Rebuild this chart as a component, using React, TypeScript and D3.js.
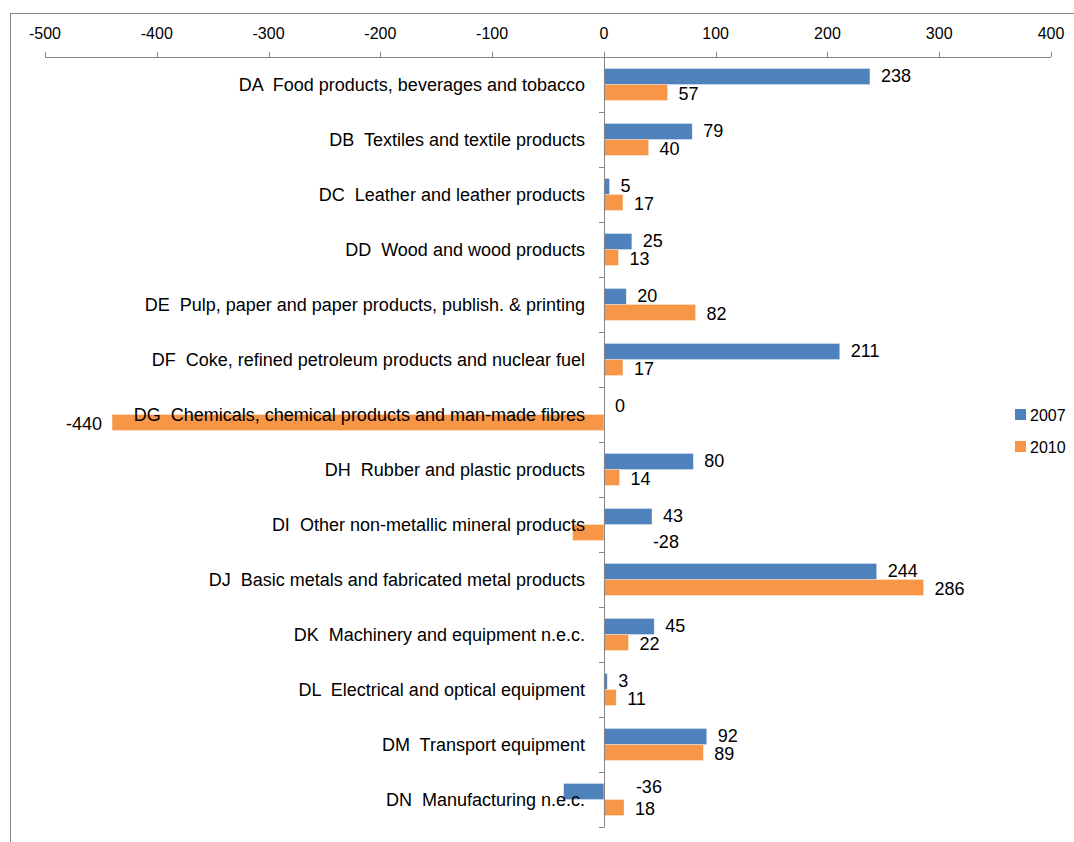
import React from "react";
import * as d3 from "d3";

const categories = [
  "DA  Food products, beverages and tobacco",
  "DB  Textiles and textile products",
  "DC  Leather and leather products",
  "DD  Wood and wood products",
  "DE  Pulp, paper and paper products, publish. & printing",
  "DF  Coke, refined petroleum products and nuclear fuel",
  "DG  Chemicals, chemical products and man-made fibres",
  "DH  Rubber and plastic products",
  "DI  Other non-metallic mineral products",
  "DJ  Basic metals and fabricated metal products",
  "DK  Machinery and equipment n.e.c.",
  "DL  Electrical and optical equipment",
  "DM  Transport equipment",
  "DN  Manufacturing n.e.c.",
];
const values2007 = [238, 79, 5, 25, 20, 211, 0, 80, 43, 244, 45, 3, 92, -36];
const values2010 = [57, 40, 17, 13, 82, 17, -440, 14, -28, 286, 22, 11, 89, 18];
const seriesNames = ["2007", "2010"];
const xTicks = [-500, -400, -300, -200, -100, 0, 100, 200, 300, 400];

const COLORS = ["#4F81BD", "#F79646"];
const FONT = "'Liberation Sans', Arial, sans-serif";

export default function App() {
  const W = 1074, H = 842;
  const top = 57, bottom = 827;
  const x = d3.scaleLinear().domain([-500, 400]).range([45, 1051]);
  const y = d3.scaleBand<string>().domain(categories).range([top, bottom]).paddingInner(0).paddingOuter(0);
  const band = y.bandwidth();
  const barH = 16;
  const x0 = x(0);
  const series = [values2007, values2010];

  return (
    <svg width={W} height={H} style={{ position: "absolute", left: 0, top: 0, background: "#fff" }}>
      <rect x={10.5} y={13.5} width={1200} height={1000} fill="#fff" stroke="#868686" strokeWidth={1} />
      {/* top axis */}
      <line x1={x(-500)} x2={x(400)} y1={top + 0.5} y2={top + 0.5} stroke="#868686" />
      {xTicks.map((t) => (
        <g key={t}>
          <line x1={Math.round(x(t)) + 0.5} x2={Math.round(x(t)) + 0.5} y1={top - 5} y2={top} stroke="#868686" />
          <text x={x(t)} y={33} textAnchor="middle" dominantBaseline="central" fontFamily={FONT} fontSize={16} fill="#000">
            {t}
          </text>
        </g>
      ))}
      {/* bars */}
      {categories.map((c, i) => {
        const by = (y(c) as number) + band / 2 - barH;
        return (
          <g key={c}>
            {series.map((vals, s) => {
              const v = vals[i];
              const yy = by + s * barH;
              const xa = Math.min(x(v), x0);
              const w = Math.abs(x(v) - x0);
              return (
                <rect key={s} x={xa} y={yy} width={w} height={barH} fill={COLORS[s]} stroke="#ffffff" strokeOpacity={0.5} strokeWidth={0.6} />
              );
            })}
          </g>
        );
      })}
      {/* vertical axis */}
      <line x1={Math.round(x0) + 0.5} x2={Math.round(x0) + 0.5} y1={top} y2={bottom} stroke="#868686" />
      {d3.range(categories.length + 1).map((k) => {
        const yy = Math.round(top + k * band) + 0.5;
        return <line key={k} x1={Math.round(x0) - 5} x2={Math.round(x0) + 0.5} y1={yy} y2={yy} stroke="#868686" />;
      })}
      {/* category labels */}
      {categories.map((c) => (
        <text key={c} x={585} y={(y(c) as number) + band / 2} textAnchor="end" dominantBaseline="central" fontFamily={FONT} fontSize={18} fill="#000" style={{ whiteSpace: "pre" }}>
          {c}
        </text>
      ))}
      {/* value labels */}
      {categories.map((c, i) => (
        <g key={c}>
          {series.map((vals, s) => {
            const v = vals[i];
            const cy = (y(c) as number) + band / 2 - barH / 2 + s * barH;
            let tx: number, anchor: "start" | "end" = "start", dy = s === 0 ? -1 : 1;
            if (v >= 0) {
              tx = x(v) + 11;
            } else if (v < -100) {
              tx = x(v) - 10;
              anchor = "end";
            } else {
              tx = x0 + (s === 0 ? 32 : 49);
              dy = s === 0 ? -5 : 9;
            }
            return (
              <text key={s} x={tx} y={cy + dy} textAnchor={anchor} dominantBaseline="central" fontFamily={FONT} fontSize={18} fill="#000">
                {v}
              </text>
            );
          })}
        </g>
      ))}
      {/* legend */}
      {seriesNames.map((n, s) => (
        <g key={n} transform={`translate(1015, ${409 + s * 32})`}>
          <rect x={0} y={0} width={11} height={11} fill={COLORS[s]} />
          <text x={15} y={6} dominantBaseline="central" fontFamily={FONT} fontSize={16} fill="#000">
            {n}
          </text>
        </g>
      ))}
    </svg>
  );
}
